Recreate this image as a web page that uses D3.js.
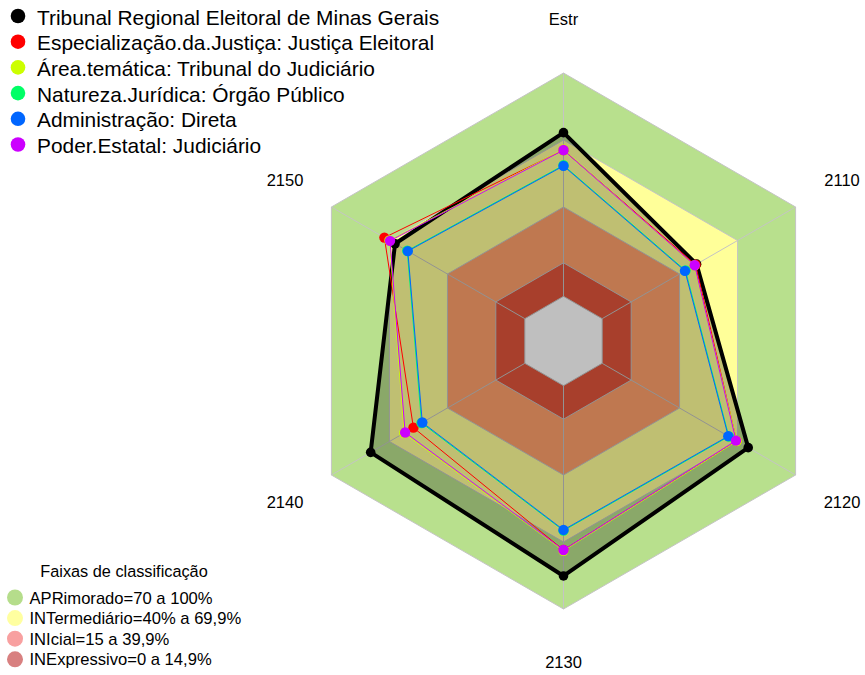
<!DOCTYPE html>
<html>
<head>
<meta charset="utf-8">
<script src="https://cdn.jsdelivr.net/npm/d3@7"></script>
<style>
  body { margin: 0; background: #fff; }
  text { font-family: Arial, "Liberation Sans", sans-serif; fill: #000; }
</style>
</head>
<body>
<svg id="chart" width="865" height="675"></svg>
<script>
// axes, clockwise from the top
let axes = ["Estr", "2110", "2120", "2130", "2140", "2150"];

let seriesNames = [
    "Tribunal Regional Eleitoral de Minas Gerais",
    "Especialização.da.Justiça: Justiça Eleitoral",
    "Área.temática: Tribunal do Judiciário",
    "Natureza.Jurídica: Órgão Público",
    "Administração: Direta",
    "Poder.Estatal: Judiciário"
];
let seriesColors = ["#000000", "#FF0000", "#CCFF00", "#00FF66", "#0066FF", "#CC00FF"];

// values in %
let tribunal   = [73.3, 48.8, 75.5, 85.2, 79.7, 67.1];
let especializ = [65.5, 48.3, 69.5, 73.6, 57.6, 72.6];
let areaTemat  = [65.8, 47.6, 69.6, 73.9, 62.4, 70.0];
let natureza   = [58.7, 43.1, 65.5, 64.9, 53.4, 60.8];
let administr  = [58.4, 42.8, 65.2, 64.6, 53.0, 60.5];
let poder      = [65.5, 47.8, 69.2, 73.6, 61.9, 69.7];
let allSeries = [tribunal, especializ, areaTemat, natureza, administr, poder];

// classification bands
let bandNames = ["APRimorado=70 a 100%", "INTermediário=40% a 69,9%", "INIcial=15 a 39,9%", "INExpressivo=0 a 14,9%"];
let bandTops = [100, 70, 40, 15];
let bandFills = ["#B8E08D", "#FFFF99", "#FFA06B", "#E0553B"];
let bandLegendColors = ["#B5DD8B", "#FFFFA0", "#F8A0A0", "#D88080"];

let svg = d3.select("#chart");
let cx = 563.5, cy = 341, R = 268;

let rScale = d3.scaleLinear().domain([0, 100]).range([R / 6, R]);
let angle = d3.scalePoint().domain(d3.range(axes.length + 1)).range([0, 2 * Math.PI]);

let g = svg.append("g").attr("transform", "translate(" + cx + "," + cy + ")");

let hexagon = function(r) {
    return d3.lineRadial()
        .angle((d, i) => angle(i))
        .radius(r)
        .curve(d3.curveLinearClosed)(axes);
};

// bands
bandTops.forEach(function(t, i) {
    g.append("path").attr("d", hexagon(rScale(t))).attr("fill", bandFills[i]);
});
g.append("path").attr("d", hexagon(rScale(0))).attr("fill", "#ffffff");

// grid
[0, 15, 40, 70, 100].forEach(function(t) {
    g.append("path").attr("d", hexagon(rScale(t)))
        .attr("fill", "none").attr("stroke", "#C4C4C4").attr("stroke-width", 1);
});
axes.forEach(function(a, i) {
    let p0 = d3.pointRadial(angle(i), rScale(0));
    let p1 = d3.pointRadial(angle(i), rScale(100));
    g.append("line")
        .attr("x1", p0[0]).attr("y1", p0[1])
        .attr("x2", p1[0]).attr("y2", p1[1])
        .attr("stroke", "#C4C4C4").attr("stroke-width", 1);
});

// axis labels
axes.forEach(function(a, i) {
    let p = d3.pointRadial(angle(i), R * 1.2);
    g.append("text")
        .attr("x", p[0]).attr("y", p[1]).attr("dy", "0.35em")
        .attr("text-anchor", "middle")
        .style("font-size", "16.5px")
        .text(a);
});

// series
let radarLine = d3.lineRadial()
    .angle((d, i) => angle(i))
    .radius(d => rScale(d))
    .curve(d3.curveLinearClosed);

allSeries.forEach(function(values, s) {
    let first = s === 0;
    g.append("path")
        .attr("d", radarLine(values))
        .attr("fill", first ? "rgba(0,0,0,0.25)" : "none")
        .attr("stroke", seriesColors[s])
        .attr("stroke-width", first ? 4 : 1)
        .attr("stroke-linejoin", "round");
    g.selectAll(null).data(values).enter()
        .append("circle")
        .attr("cx", (d, i) => d3.pointRadial(angle(i), rScale(d))[0])
        .attr("cy", (d, i) => d3.pointRadial(angle(i), rScale(d))[1])
        .attr("r", first ? 4.8 : 5.2)
        .attr("fill", seriesColors[s]);
});

// series legend
let leg = svg.append("g");
seriesNames.forEach(function(name, i) {
    let y = 16 + i * 25.7;
    leg.append("circle").attr("cx", 18).attr("cy", y).attr("r", 7.3).attr("fill", seriesColors[i]);
    leg.append("text").attr("x", 37).attr("y", y + 8.5)
        .style("font-size", "20.9px").text(name);
});

// bands legend
let leg2 = svg.append("g");
leg2.append("text").attr("x", 124).attr("y", 577)
    .attr("text-anchor", "middle").style("font-size", "16.3px")
    .text("Faixas de classificação");
bandNames.forEach(function(name, i) {
    let y = 597.5 + i * 20.6;
    leg2.append("circle").attr("cx", 15).attr("cy", y).attr("r", 8).attr("fill", bandLegendColors[i]);
    leg2.append("text").attr("x", 29.5).attr("y", y + 6)
        .style("font-size", "16.6px").text(name);
});
</script>
</body>
</html>
